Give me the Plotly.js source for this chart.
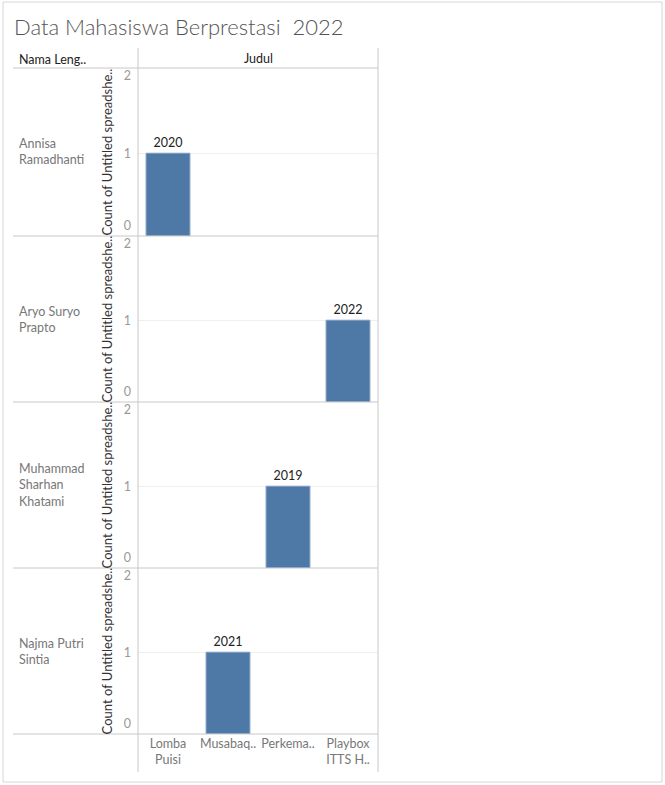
<!DOCTYPE html>
<html>
<head>
<meta charset="utf-8">
<script src="https://cdn.plot.ly/plotly-3.0.1.min.js"></script>
<style>html,body{margin:0;padding:0;background:#fff;}#chart{width:665px;height:785px;}</style>
</head>
<body>
<div id="chart"></div>
<script>
// ---- data ----
const names = ["Annisa<br>Ramadhanti", "Aryo Suryo<br>Prapto", "Muhammad<br>Sharhan<br>Khatami", "Najma Putri<br>Sintia"];
const categories = ["Lomba Puisi", "Musabaq..", "Perkema..", "Playbox ITTS H.."];
const categoryTickLabels = ["Lomba<br>Puisi", "Musabaq..", "Perkema..", "Playbox<br>ITTS H.."];
const barCategory = ["Lomba Puisi", "Playbox ITTS H..", "Perkema..", "Musabaq.."];
const barCount = [1, 1, 1, 1];
const barYear = ["2020", "2022", "2019", "2021"];
const yTicks = [0, 1, 2];

// ---- layout helpers ----
const W = 665, H = 785;
const X = v => v / W;
const Y = v => 1 - v / H;
const panelLeft = 138, panelRight = 378;
const rowTops = [68, 236, 402, 568, 734];
const lineColor = "#c8c8c8";
const font = "Lato, 'Open Sans', sans-serif";
const yRange = [0, 2.03];
// tick label shifts (px, positive = down) so end labels sit inside each pane
const tickShift = {0: -10, 1: 0, 2: 5};

const traces = [];
const layout = {
  width: W, height: H,
  margin: {l: 0, r: 0, t: 0, b: 0},
  paper_bgcolor: "#fff", plot_bgcolor: "rgba(0,0,0,0)",
  showlegend: false,
  font: {family: font, size: 12, color: "#333"},
  shapes: [], annotations: []
};

let extraAxis = names.length + 1;
names.forEach((nm, i) => {
  const sfx = i === 0 ? "" : String(i + 1);
  traces.push({
    type: "bar",
    x: [barCategory[i]], y: [barCount[i]],
    text: [barYear[i]], textposition: "outside", cliponaxis: false,
    textfont: {family: font, size: 12.5, color: "#222"},
    marker: {color: "#4e79a7", line: {color: "#7f9cc0", width: 1}},
    width: 0.73,
    xaxis: "x" + sfx, yaxis: "y" + sfx,
    hoverinfo: "skip"
  });
  const top = rowTops[i], bot = rowTops[i + 1];
  const last = i === names.length - 1;
  layout["xaxis" + sfx] = {
    domain: [X(panelLeft), X(panelRight)],
    anchor: "y" + sfx,
    type: "category",
    categoryorder: "array", categoryarray: categories,
    range: [-0.5, 3.5],
    tickvals: categories, ticktext: categoryTickLabels,
    showticklabels: last,
    tickfont: {family: font, size: 12.5, color: "#777"},
    ticks: "", showgrid: false, zeroline: false, showline: false,
    fixedrange: true
  };
  layout["yaxis" + sfx] = {
    domain: [Y(bot), Y(top)],
    anchor: "x" + sfx,
    range: yRange,
    tickvals: [yTicks[1]],
    ticks: "", ticklabelstandoff: 6,
    tickfont: {family: font, size: 12.5, color: "#999"},
    showgrid: true, gridcolor: "#efefef", zeroline: false, showline: false,
    title: {text: "Count of Untitled spreadshe..", font: {family: font, size: 13, color: "#333"}, standoff: 8},
    fixedrange: true
  };
  // overlay axes for end tick labels (0 and 2), shifted inward
  [yTicks[0], yTicks[2]].forEach(tv => {
    const k = String(extraAxis++);
    layout["yaxis" + k] = {
      domain: [Y(bot), Y(top)],
      anchor: "x" + sfx, overlaying: "y" + sfx,
      range: yRange, tickvals: [tv],
      ticks: "", ticklabelstandoff: 6, ticklabelshift: tickShift[tv],
      tickfont: {family: font, size: 12.5, color: "#999"},
      showgrid: false, zeroline: false, showline: false, fixedrange: true
    };
    traces.push({type: "scatter", mode: "none", x: [categories[0]], y: [tv],
      xaxis: "x" + sfx, yaxis: "y" + k, hoverinfo: "skip"});
  });
  layout.annotations.push({
    xref: "paper", yref: "paper",
    x: X(17), y: Y((top + bot) / 2),
    xanchor: "left", yanchor: "middle", align: "left",
    text: nm, showarrow: false,
    font: {family: font, size: 12.5, color: "#777"}
  });
});

// header texts
layout.annotations.push(
  {xref: "paper", yref: "paper", x: X(17), y: Y(60), xanchor: "left", yanchor: "middle",
   text: "Nama Leng..", showarrow: false, font: {family: font, size: 12.5, color: "#222"}},
  {xref: "paper", yref: "paper", x: X((panelLeft + panelRight) / 2), y: Y(59), xanchor: "center", yanchor: "middle",
   text: "Judul", showarrow: false, font: {family: font, size: 12.5, color: "#222"}},
  {xref: "paper", yref: "paper", x: X(12), y: Y(27), xanchor: "left", yanchor: "middle",
   text: "Data Mahasiswa Berprestasi  2022", showarrow: false,
   font: {family: font, size: 22, color: "#555", weight: 300}}
);

// grid lines
rowTops.forEach(t => {
  layout.shapes.push({type: "line", xref: "paper", yref: "paper",
    x0: X(13), x1: X(panelRight), y0: Y(t), y1: Y(t), line: {color: lineColor, width: 1}});
});
[panelLeft, panelRight].forEach(v => {
  layout.shapes.push({type: "line", xref: "paper", yref: "paper",
    x0: X(v), x1: X(v), y0: Y(48), y1: Y(772), line: {color: lineColor, width: 1}});
});
// outer border
layout.shapes.push({type: "rect", xref: "paper", yref: "paper",
  x0: X(3), x1: X(662), y0: Y(782), y1: Y(2), line: {color: "#d6d6d6", width: 1}});

Plotly.newPlot("chart", traces, layout, {staticPlot: true, displayModeBar: false});
</script>
</body>
</html>
